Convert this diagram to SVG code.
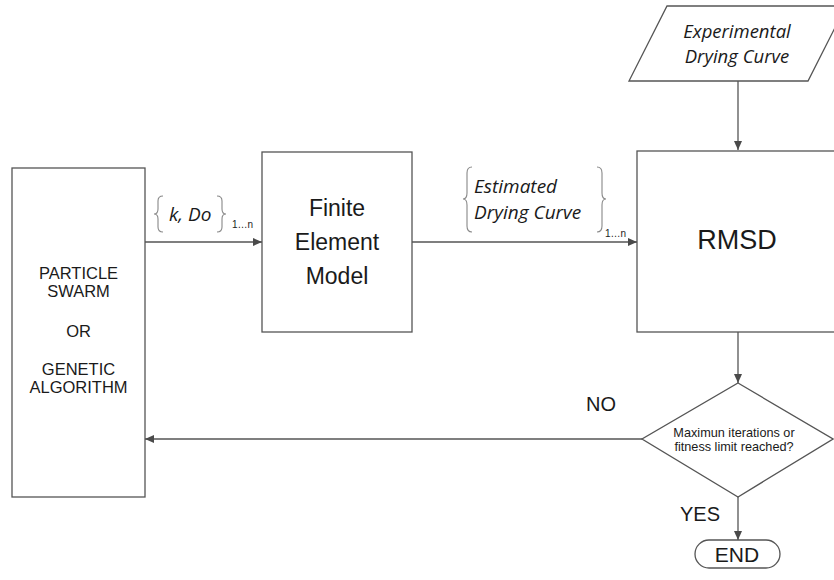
<svg xmlns="http://www.w3.org/2000/svg" width="834" height="580" viewBox="0 0 834 580">
<defs>
<marker id="ah" markerWidth="9" markerHeight="8" refX="9" refY="4" orient="auto" markerUnits="userSpaceOnUse">
<path d="M0,0 L9,4 L0,8 Z" fill="#4a4a4a"/>
</marker>
<style>
.box{fill:#fff;stroke:#555;stroke-width:1.3}
.ln{fill:none;stroke:#555;stroke-width:1.3}
.br{fill:none;stroke:#888;stroke-width:1.1}
.t{font-family:"Liberation Sans",Arial,sans-serif;fill:#1a1a1a;text-anchor:middle}
.it{font-family:"Open Sans","Noto Sans",sans-serif;font-style:italic;fill:#1a1a1a}
.sm{font-family:"Liberation Sans",Arial,sans-serif;font-size:10px;fill:#222}
</style>
</defs>
<rect width="834" height="580" fill="#fff"/>
<g id="connectors">
<path class="ln" d="M145,242 H262" marker-end="url(#ah)"/>
<path class="ln" d="M412,242 H637" marker-end="url(#ah)"/>
<path class="ln" d="M738,81 V150" marker-end="url(#ah)"/>
<path class="ln" d="M738,332 V383" marker-end="url(#ah)"/>
<path class="ln" d="M642,439 H145" marker-end="url(#ah)"/>
<path class="ln" d="M738,497 V540" marker-end="url(#ah)"/>
<g id="label-kdo">
<path class="br" d="M163,196 Q158,196 158,201 V209 Q158,214 154,214 Q158,214 158,219 V227 Q158,232 163,232"/>
<text class="it" x="169" y="221" font-size="19">k, Do</text>
<path class="br" d="M217,196 Q222,196 222,201 V209 Q222,214 226,214 Q222,214 222,219 V227 Q222,232 217,232"/>
<text class="sm" x="232" y="228">1…n</text>
</g>
<g id="label-est">
<path class="br" d="M472,167 Q467,167 467,173 V193 Q467,199 463,199 Q467,199 467,205 V226 Q467,232 472,232"/>
<text class="it" x="474" y="193" font-size="19">Estimated</text>
<text class="it" x="474" y="219" font-size="19">Drying Curve</text>
<path class="br" d="M597,167 Q602,167 602,173 V193 Q602,199 606,199 Q602,199 602,205 V226 Q602,232 597,232"/>
<text class="sm" x="605" y="237">1…n</text>
</g>
<text class="t" x="601" y="411" font-size="20">NO</text>
<text class="t" x="700" y="521" font-size="20">YES</text>
</g>
<g id="optimizer">
<rect class="box" x="12" y="168" width="133" height="329"/>
<text class="t" x="78.5" y="279" font-size="16.5">PARTICLE</text>
<text class="t" x="78.5" y="297" font-size="16.5">SWARM</text>
<text class="t" x="78.5" y="337" font-size="16.5">OR</text>
<text class="t" x="78.5" y="375" font-size="16.5">GENETIC</text>
<text class="t" x="78.5" y="393" font-size="16.5">ALGORITHM</text>
</g>
<g id="fem">
<rect class="box" x="262" y="152" width="150" height="180"/>
<text class="t" x="337" y="216" font-size="23">Finite</text>
<text class="t" x="337" y="250" font-size="23">Element</text>
<text class="t" x="337" y="284" font-size="23">Model</text>
</g>
<g id="experimental">
<polygon class="box" points="667,6 846,6 808,81 629,81"/>
<text class="it" x="737" y="38" font-size="18.5" text-anchor="middle">Experimental</text>
<text class="it" x="737" y="63" font-size="18.5" text-anchor="middle">Drying Curve</text>
</g>
<g id="rmsd">
<rect class="box" x="637" y="151" width="210" height="181"/>
<text class="t" x="737" y="249" font-size="27">RMSD</text>
</g>
<g id="decision">
<polygon class="box" points="738,383 833,439 738,497 642,439"/>
<text class="t" x="734" y="437" font-size="12.7">Maximun iterations or</text>
<text class="t" x="734" y="451" font-size="12.7">fitness limit reached?</text>
</g>
<g id="end">
<rect class="box" x="695" y="540" width="85" height="28" rx="14"/>
<text class="t" x="737" y="562" font-size="21">END</text>
</g>
</svg>
